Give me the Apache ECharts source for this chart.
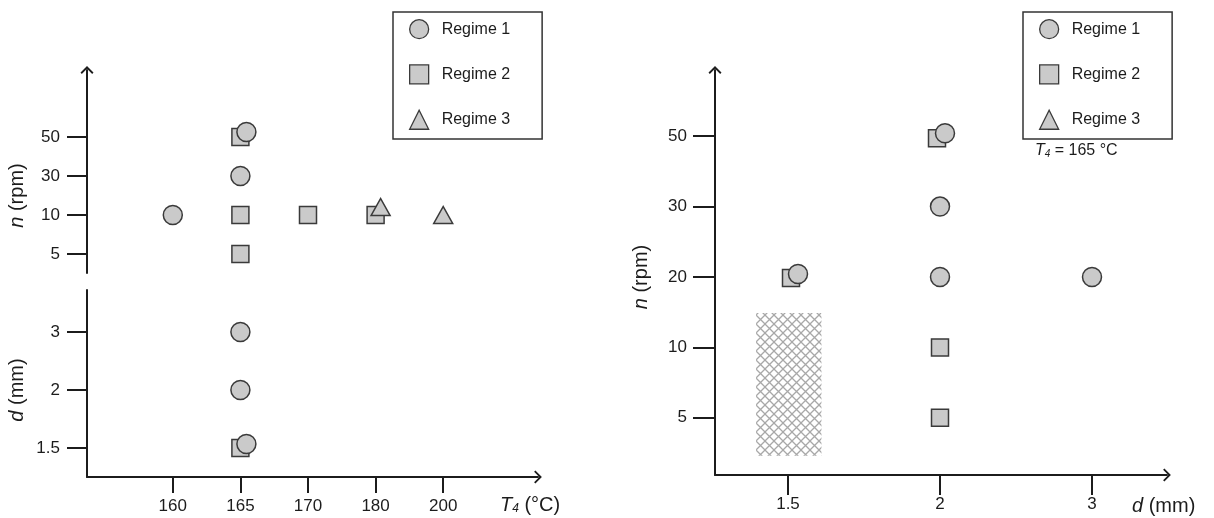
<!DOCTYPE html>
<html>
<head>
<meta charset="utf-8">
<script src="https://cdn.jsdelivr.net/npm/echarts@6/dist/echarts.min.js"></script>
<style>html,body{margin:0;padding:0;background:#fff}#c{width:1214px;height:518px}</style>
</head>
<body>
<div id="c"></div>
<script>
// ---------- data ----------
const leftT4 = ['160', '165', '170', '180', '200'];     // T4 (°C) categories
const leftN = ['5', '10', '30', '50'];                  // n (rpm), upper part
const leftD = ['1.5', '2', '3'];                        // d (mm), lower part
const rightD = ['1.5', '2', '3'];                       // d (mm)
const rightN = ['5', '10', '20', '30', '50'];           // n (rpm)

// left panel, n vs T4
const leftNRegime1 = [['160', '10'], ['165', '30'], ['165', '50']];
const leftNRegime2 = [['165', '50'], ['165', '10'], ['165', '5'], ['170', '10'], ['180', '10']];
const leftNRegime3 = [['180', '10'], ['200', '10']];
// left panel, d vs T4
const leftDRegime1 = [['165', '3'], ['165', '2'], ['165', '1.5']];
const leftDRegime2 = [['165', '1.5']];
// right panel, n vs d (T4 = 165 °C)
const rightRegime1 = [['1.5', '20'], ['2', '50'], ['2', '30'], ['2', '20'], ['3', '20']];
const rightRegime2 = [['1.5', '20'], ['2', '50'], ['2', '10'], ['2', '5']];
// hatched region (right panel), anchored at d=1.5, n=5, extent in category steps
const hatchAnchor = [['1.5', '5']];
const hatchExtent = { dFrom: -0.21, dTo: 0.22, nFrom: -0.54, nTo: 1.49 };

// ---------- styles ----------
const FONT = '"Liberation Sans", Arial, sans-serif';
const INK = '#1c1c1c';
// pixel nudges for overlapping markers (style only)
const nudges = {
  'L|165|50|Regime 1': [6, -5],
  'L|180|10|Regime 3': [5, -8],
  'L|165|1.5|Regime 1': [6, -4],
  'R|2|50|Regime 1': [5, -3],
  'R|2|50|Regime 2': [-3, 2],
  'R|1.5|20|Regime 1': [10, -3],
  'R|1.5|20|Regime 2': [3, 1]
};
const symbols = {
  'Regime 1': { symbol: 'circle', size: 19 },
  'Regime 2': { symbol: 'rect', size: 17 },
  'Regime 3': { symbol: 'triangle', size: [19, 17] }
};
const markStyle = { color: '#cacaca', borderColor: '#3a3a3a', borderWidth: 1.5, opacity: 1 };

function mkSeries(name, data, panel, axisIdx) {
  return {
    type: 'scatter', name: name,
    xAxisIndex: axisIdx, yAxisIndex: axisIdx,
    symbol: symbols[name].symbol, symbolSize: symbols[name].size,
    itemStyle: markStyle,
    emphasis: { disabled: true },
    data: data.map(p => {
      const k = panel + '|' + p[0] + '|' + p[1] + '|' + name;
      const item = { value: p };
      if (nudges[k]) item.symbolOffset = nudges[k];
      return item;
    })
  };
}

// cross-hatch pattern
const pc = document.createElement('canvas');
pc.width = 9; pc.height = 9;
const g = pc.getContext('2d');
g.strokeStyle = '#a8a8a8'; g.lineWidth = 1.3;
g.beginPath();
g.moveTo(0, 0); g.lineTo(9, 9);
g.moveTo(9, 0); g.lineTo(0, 9);
g.stroke();
const hatch = { image: pc, repeat: 'repeat' };

const ARROW = 'path://M10,0 L20,10 L18,12 L10,4 L2,12 L0,10 Z';
const lineAxis = (showLine, arrow, extra) => Object.assign({
  type: 'value', min: 0, max: 1, show: showLine,
  axisLine: { show: true, onZero: false, symbol: arrow ? ['none', ARROW] : 'none', symbolSize: [13, 8],
    lineStyle: { color: INK, width: 2 } },
  axisTick: { show: false }, axisLabel: { show: false }, splitLine: { show: false }
}, extra || {});

const richName = {
  i: { fontStyle: 'italic', fontSize: 20, fontFamily: FONT, color: INK },
  s: { fontStyle: 'italic', fontSize: 12, fontFamily: FONT, color: INK, padding: [8, 0, 0, 0] },
  r: { fontSize: 20, fontFamily: FONT, color: INK }
};

const catAxis = (data, extra) => Object.assign({
  type: 'category', data: data, boundaryGap: true,
  axisLine: { show: false },
  axisTick: { show: true, alignWithLabel: true, length: 20, lineStyle: { color: INK, width: 2 } },
  axisLabel: { interval: 0, fontSize: 17, fontFamily: FONT, color: INK },
  splitLine: { show: false }
}, extra || {});

const legendBase = {
  orient: 'vertical', top: 12, padding: [7, 32, 9, 16],
  itemWidth: 19, itemHeight: 19, itemGap: 25,
  borderColor: '#333', borderWidth: 1.5, backgroundColor: '#fff',
  data: ['Regime 1', 'Regime 2', 'Regime 3'],
  itemStyle: { borderWidth: 1.3 },
  textStyle: { fontSize: 16, fontFamily: FONT, color: INK, padding: [0, 0, 0, 8] },
  selectedMode: false
};

const option = {
  animation: false,
  backgroundColor: '#fff',
  title: {
    text: '{i|T}{s|4}{r| = 165 °C}', left: 1035, top: 142, padding: 0,
    textStyle: { fontWeight: 'normal', rich: {
      i: { fontStyle: 'italic', fontWeight: 'normal', fontSize: 16, fontFamily: FONT, color: INK },
      s: { fontStyle: 'italic', fontWeight: 'normal', fontSize: 10, fontFamily: FONT, color: INK, padding: [7, 0, 0, 0] },
      r: { fontWeight: 'normal', fontSize: 16, fontFamily: FONT, color: INK }
    } }
  },
  legend: [
    Object.assign({ left: 393 }, legendBase),
    Object.assign({ left: 1023 }, legendBase)
  ],
  grid: [
    { left: 87, top: 70, width: 451, height: 203, outerBoundsMode: 'none' },   // 0 left upper lines
    { left: 87, top: 290, width: 451, height: 187, outerBoundsMode: 'none' },  // 1 left lower lines
    { left: 715, top: 70, width: 452, height: 405, outerBoundsMode: 'none' },  // 2 right lines
    { left: 139, top: 117.5, width: 338, height: 156, outerBoundsMode: 'none' }, // 3 left upper marks
    { left: 139, top: 303, width: 338, height: 174, outerBoundsMode: 'none' },   // 4 left lower marks
    { left: 712, top: 101, width: 456, height: 352, outerBoundsMode: 'none' }    // 5 right marks
  ],
  xAxis: [
    lineAxis(false, false, { gridIndex: 0 }),
    lineAxis(true, true, { gridIndex: 1, name: '{i|T}{s|4}{r| (°C)}', nameLocation: 'end', nameGap: -38,
      nameTextStyle: { rich: richName, align: 'left', verticalAlign: 'top', padding: [18, 0, 0, 0] } }),
    lineAxis(true, true, { gridIndex: 2, name: '{i|d}{r| (mm)}', nameLocation: 'end', nameGap: -35,
      nameTextStyle: { rich: richName, align: 'left', verticalAlign: 'top', padding: [21, 0, 0, 0] } }),
    catAxis(leftT4, { gridIndex: 3, show: false }),
    catAxis(leftT4, { gridIndex: 4, axisTick: { show: true, alignWithLabel: true, length: 16, lineStyle: { color: INK, width: 2 } },
      axisLabel: { interval: 0, margin: 21, fontSize: 17, fontFamily: FONT, color: INK } }),
    catAxis(rightD, { gridIndex: 5, offset: 22,
      axisLabel: { interval: 0, margin: 21, fontSize: 17, fontFamily: FONT, color: INK } })
  ],
  yAxis: [
    lineAxis(true, true, { gridIndex: 0 }),
    lineAxis(true, false, { gridIndex: 1 }),
    lineAxis(true, true, { gridIndex: 2 }),
    catAxis(leftN, { gridIndex: 3, offset: 52, name: '{i|n}{r| (rpm)}', nameLocation: 'middle', nameGap: 60,
      nameTextStyle: { rich: richName }, axisLabel: { interval: 0, margin: 27, fontSize: 17, fontFamily: FONT, color: INK } }),
    catAxis(leftD, { gridIndex: 4, offset: 52, name: '{i|d}{r| (mm)}', nameLocation: 'middle', nameGap: 60,
      nameTextStyle: { rich: richName }, axisLabel: { interval: 0, margin: 27, fontSize: 17, fontFamily: FONT, color: INK } }),
    catAxis(rightN, { gridIndex: 5, offset: -3, name: '{i|n}{r| (rpm)}', nameLocation: 'middle', nameGap: 64,
      nameTextStyle: { rich: richName },
      axisTick: { show: true, alignWithLabel: true, length: 22, lineStyle: { color: INK, width: 2 } },
      axisLabel: { interval: 0, margin: 28, fontSize: 17, fontFamily: FONT, color: INK } })
  ],
  series: [
    {
      type: 'custom', xAxisIndex: 5, yAxisIndex: 5, silent: true, z: 1,
      data: hatchAnchor,
      renderItem: function (params, api) {
        const c = api.coord([api.value(0), api.value(1)]);
        const band = api.size([1, 1]);
        const x0 = c[0] + hatchExtent.dFrom * band[0];
        const x1 = c[0] + hatchExtent.dTo * band[0];
        const y0 = c[1] - hatchExtent.nTo * band[1];
        const y1 = c[1] - hatchExtent.nFrom * band[1];
        return { type: 'rect', shape: { x: x0, y: y0, width: x1 - x0, height: y1 - y0 }, style: { fill: hatch } };
      }
    },
    mkSeries('Regime 2', leftNRegime2, 'L', 3),
    mkSeries('Regime 1', leftNRegime1, 'L', 3),
    mkSeries('Regime 3', leftNRegime3, 'L', 3),
    mkSeries('Regime 2', leftDRegime2, 'L', 4),
    mkSeries('Regime 1', leftDRegime1, 'L', 4),
    mkSeries('Regime 2', rightRegime2, 'R', 5),
    mkSeries('Regime 1', rightRegime1, 'R', 5),
    { type: 'scatter', name: 'Regime 3', xAxisIndex: 5, yAxisIndex: 5, data: [],
      symbol: symbols['Regime 3'].symbol, symbolSize: symbols['Regime 3'].size, itemStyle: markStyle }
  ]
};

const chart = echarts.init(document.getElementById('c'), null, { renderer: 'canvas' });
chart.setOption(option);
</script>
</body>
</html>
